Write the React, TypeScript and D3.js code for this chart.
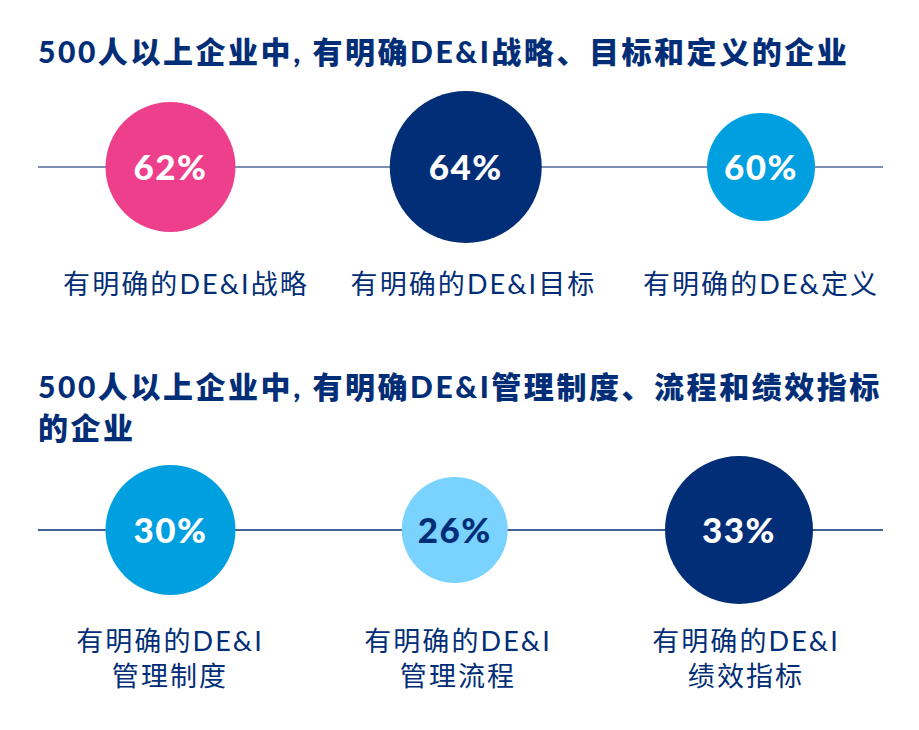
import React from "react";
import * as d3 from "d3";

const title1 = ["500人以上企业中, 有明确DE&I战略、目标和定义的企业"];
const title2 = ["500人以上企业中, 有明确DE&I管理制度、流程和绩效指标", "的企业"];

const cats1 = ["strategy", "goal", "definition"];
const values1 = [62, 64, 60];
const labels1 = [["有明确的DE&I战略"], ["有明确的DE&I目标"], ["有明确的DE&定义"]];
const colors1 = ["#EE3F8C", "#022E77", "#00A0E0"];
const textColors1 = ["#FFFFFF", "#FFFFFF", "#FFFFFF"];

const cats2 = ["system", "process", "kpi"];
const values2 = [30, 26, 33];
const labels2 = [["有明确的DE&I", "管理制度"], ["有明确的DE&I", "管理流程"], ["有明确的DE&I", "绩效指标"]];
const colors2 = ["#00A0E0", "#7AD3FF", "#022E77"];
const textColors2 = ["#FFFFFF", "#022E77", "#FFFFFF"];

const NAVY = "#022E77";
const FONT = "Lato, 'Noto Sans CJK SC', sans-serif";

type PanelProps = {
  title: string[];
  titleY: number;
  lineY: number;
  cats: string[];
  values: number[];
  labels: string[][];
  colors: string[];
  textColors: string[];
  circleRange: [number, number];
  labelRange: [number, number];
  rRange: [number, number];
  labelY: number;
  lineColor: string;
};

function Panel(p: PanelProps) {
  const x = d3.scalePoint<string>().domain(p.cats).range(p.circleRange);
  const lx = d3.scalePoint<string>().domain(p.cats).range(p.labelRange);
  const ext = d3.extent(p.values) as [number, number];
  const r = d3.scaleLinear().domain(ext).range(p.rRange);
  return (
    <g>
      {p.title.map((t, i) => (
        <text
          key={i}
          x={38}
          y={p.titleY + i * 41}
          fill={NAVY}
          fontFamily={FONT}
          fontWeight={900}
          fontSize={30}
          letterSpacing={2.55}
          dominantBaseline="central"
        >
          {t}
        </text>
      ))}
      <line x1={38} x2={883} y1={p.lineY} y2={p.lineY} stroke={p.lineColor} strokeWidth={1.5} />
      {p.cats.map((c, i) => (
        <g key={c}>
          <circle cx={x(c)} cy={p.lineY} r={r(p.values[i])} fill={p.colors[i]} />
          <text
            x={x(c)}
            y={p.lineY - 1.5}
            textAnchor="middle"
            dominantBaseline="central"
            fill={p.textColors[i]}
            fontFamily={FONT}
            fontWeight={900}
            fontSize={35}
            letterSpacing={1.5}
          >
            {p.values[i] + "%"}
          </text>
          {p.labels[i].map((l, j) => (
            <text
              key={j}
              x={lx(c)}
              y={p.labelY + j * 35}
              textAnchor="middle"
              dominantBaseline="central"
              fill={NAVY}
              fontFamily={FONT}
              fontSize={27}
              letterSpacing={2.1}
            >
              {l}
            </text>
          ))}
        </g>
      ))}
    </g>
  );
}

export default function App() {
  return (
    <div style={{ position: "absolute", left: 0, top: 0 }}>
      <svg width={919} height={730} style={{ display: "block", background: "#fff" }}>
        <Panel
          title={title1}
          titleY={51}
          lineY={167}
          cats={cats1}
          values={values1}
          labels={labels1}
          colors={colors1}
          textColors={textColors1}
          circleRange={[170.5, 761]}
          labelRange={[186, 761]}
          rRange={[54, 76]}
          labelY={283}
          lineColor="#4D6A9A"
        />
        <Panel
          title={title2}
          titleY={386}
          lineY={530}
          cats={cats2}
          values={values2}
          labels={labels2}
          colors={colors2}
          textColors={textColors2}
          circleRange={[170.5, 739]}
          labelRange={[170, 746]}
          rRange={[53, 74]}
          labelY={640}
          lineColor={NAVY}
        />
      </svg>
    </div>
  );
}
